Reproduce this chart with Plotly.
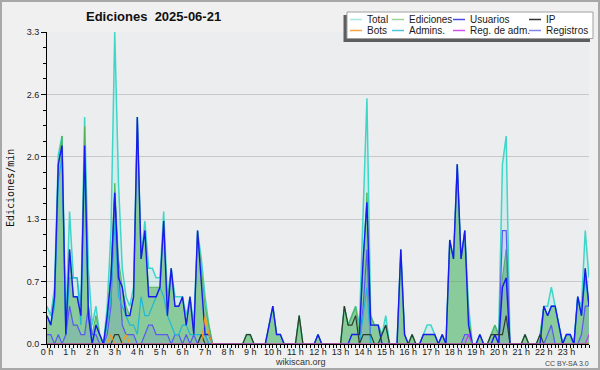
import plotly.graph_objects as go

# ---------------- data (10-minute buckets, edits per minute) ----------------
total = [0.4,0.3,0.6,2.0,2.2,0.2, 1.4,0.7,0.7,0.4,2.4,0.8, 0.2,0.4,0.1,0,0.4,1.2,
         3.3,1.7,0.8,0.5,0.4,0.6, 2.4,0.9,1.3,0.8,0.8,0.7, 0.7,1.4,0.5,0.8,0.5,0.5,
         0.5,0.3,0.5,0.2,1.2,0.9, 0.5,0.2,0,0,0,0, 0,0,0,0,0,0.1, 0.1,0,0,0,0,0.2,
         0.4,0.1,0.1,0,0,0, 0,0.3,0,0,0,0, 0.1,0,0,0,0,0, 0,0.4,0.2,0.3,0.4,0.2,
         1.3,2.6,0.3,0.2,0.2,0.1, 0.3,0,0,0,1.0,0.1, 0,0.1,0,0,0.1,0.2,
         0.2,0.1,0,0.1,0,1.1, 0.9,1.9,0.9,1.2,0.4,0, 0,0.1,0,0,0.1,0.2,
         0.1,1.9,2.2,0,0,0, 0,0.1,0,0,0,0.1, 0.4,0.4,0.6,0.4,0.2,0, 0.1,0.1,0,0.5,0.4,1.2, 0.7]
ediciones = [0.3,0.2,0.5,1.9,2.2,0.1, 1.0,0.5,0.5,0.3,2.3,0.4, 0.1,0.3,0.1,0,0.3,0.8,
             1.7,0.9,0.6,0.4,0.3,0.5, 2.4,0.9,1.2,0.6,0.6,0.6, 0.6,1.3,0.4,0.8,0.4,0.4,
             0.5,0.2,0.5,0.1,1.2,0.8, 0.4,0.2,0,0,0,0, 0,0,0,0,0,0.1, 0.1,0,0,0,0,0.2,
             0.4,0.1,0.1,0,0,0, 0,0.3,0,0,0,0, 0.1,0,0,0,0,0, 0,0.4,0.2,0.3,0.4,0.1,
             0.9,1.6,0.3,0.2,0.2,0.1, 0.2,0,0,0,1.0,0.1, 0,0.1,0,0,0.1,0.1,
             0.1,0.1,0,0.1,0,1.1, 0.9,1.9,0.9,1.2,0.3,0, 0,0.1,0,0,0.1,0.2,
             0.1,0.7,1.0,0,0,0, 0,0.1,0,0,0,0.1, 0.4,0.3,0.4,0.4,0.2,0, 0.1,0.1,0,0.5,0.3,0.8, 0.4]
usuarios = [0.3,0.2,0.5,1.9,2.1,0.1, 1.0,0.5,0.5,0.3,2.1,0.3, 0,0.2,0.1,0,0.3,0.7,
            1.6,0.7,0.6,0.3,0.3,0.5, 2.4,0.9,1.2,0.5,0.5,0.5, 0.6,1.3,0.3,0.8,0.4,0.4,
            0.5,0.2,0.5,0.1,1.2,0.6, 0.1,0.1,0,0,0,0, 0,0,0,0,0,0, 0,0,0,0,0,0.2,
            0.4,0.1,0.1,0,0,0, 0,0,0,0,0,0, 0.1,0,0,0,0,0, 0,0,0,0.1,0.1,0.1,
            0.9,1.5,0.2,0.2,0.2,0, 0,0,0,0,1.0,0.1, 0,0,0,0,0.1,0.1,
            0.1,0.1,0,0.1,0,1.1, 0.9,1.9,0.9,1.2,0.2,0, 0,0.1,0,0,0,0.1,
            0,0.6,0.7,0,0,0, 0,0,0,0,0,0, 0.4,0.3,0.4,0.4,0.2,0, 0.1,0.1,0,0.5,0.3,0.8, 0.4]
ip = [0,0,0,0,0,0, 0,0,0,0,0,0, 0,0,0,0,0,0, 0.1,0.1,0,0,0,0, 0,0,0,0,0,0, 0,0,0,0,0,0,
      0,0,0,0,0,0.1, 0,0,0,0,0,0, 0,0,0,0,0,0.1, 0.1,0,0,0,0,0, 0,0,0,0,0,0,
      0,0.3,0,0,0,0, 0,0,0,0,0,0, 0,0.4,0.2,0.2,0.3,0, 0.1,0.1,0.1,0,0,0.1,
      0.2,0,0,0,0,0, 0,0.1,0,0,0,0, 0,0,0,0,0,0, 0,0,0,0,0,0, 0,0,0,0,0.1,0.1,
      0.1,0.1,0.3,0,0,0, 0,0.1,0,0,0,0.1, 0,0,0,0,0,0, 0,0,0,0,0,0, 0]
bots = [0]*145
bots[17] = 0.1; bots[21] = 0.1; bots[42] = 0.3; bots[43] = 0.1
admins = [0.3,0.2,0.4,1.7,2.0,0.1, 0.7,0.7,0.7,0.2,1.9,0.3, 0,0.2,0.1,0,0.2,0.5,
          1.3,0.5,0.4,0.3,0.2,0.2, 0.1,0.5,0.3,0.3,0.4,0.5, 0.6,0.5,0.3,0.2,0.1,0.1,
          0.2,0.2,0.1,0.1,0.1,0.1, 0.1,0,0,0,0,0, 0,0,0,0,0,0, 0,0,0,0,0,0,
          0,0,0,0,0,0, 0,0,0,0,0,0, 0,0,0,0,0,0, 0,0,0,0,0,0,
          0.3,0.6,0,0,0,0.1, 0.2,0,0,0,0,0, 0,0,0,0,0,0, 0,0,0,0,0,0,
          0,0,0,0,0,0, 0,0,0,0,0,0, 0,0,0,0,0,0, 0,0,0,0,0,0,
          0.4,0.3,0.4,0.4,0.2,0, 0.1,0.1,0,0.5,0.3,0.7, 0.4]
reg_adm = [0]*145
reg_adm[112] = 0.1; reg_adm[144] = 0.1
registros = [0.1,0.1,0,0.1,0,0.1, 0.4,0.2,0.2,0.1,0.1,0.4, 0.1,0.1,0,0,0.1,0.4,
             1.6,0.8,0.2,0.1,0.1,0.1, 0,0,0.1,0.2,0.2,0.1, 0.1,0.1,0.1,0,0.1,0.1,
             0,0.1,0,0.1,0,0.1, 0.1,0,0,0,0,0, 0,0,0,0,0,0, 0,0,0,0,0,0,
             0,0,0,0,0,0, 0,0,0,0,0,0, 0,0,0,0,0,0, 0,0,0,0,0,0,
             0.4,1.0,0,0,0,0, 0,0,0,0,0,0, 0,0,0,0,0,0, 0,0,0,0,0,0,
             0,0,0,0.1,0.1,0, 0,0,0,0,0,0, 0,1.2,1.2,0,0,0, 0,0,0,0,0,0,
             0,0.1,0.2,0,0,0, 0,0,0,0,0.1,0.4, 0.4]

hours = [i / 6 for i in range(145)]
hour_ticks = list(range(24))
hour_labels = [f"{h} h" for h in hour_ticks]
y_ticks = [0, 0.66, 1.32, 1.98, 2.64, 3.3]
y_labels = ["0.0", "0.7", "1.3", "2.0", "2.6", "3.3"]

legend_names = ["Total", "Ediciones", "Usuarios", "IP", "Bots", "Admins.", "Reg. de adm.", "Registros"]
legend_colors = ["#a8e6e2", "#9ad69a", "#4a4ae6", "#333333", "#f6a440", "#4ec4de", "#cc55e8", "#8484f0"]

# ---------------- figure ----------------
W, H = 600, 370
L, R, T, B = 47, 11, 32, 26
PW, PH = W - L - R, H - T - B
def xp(px): return (px - L) / PW
def yp(py): return (H - B - py) / PH

fig = go.Figure()
def add(y, color, width, fill=None, fillcolor=None):
    fig.add_trace(go.Scatter(x=hours, y=y, mode="lines", line=dict(color=color, width=width),
                             fill=fill, fillcolor=fillcolor, showlegend=False, hoverinfo="skip"))

add(total, "#3fd6c8", 1.5, "tozeroy", "rgba(64,224,208,0.13)")
add(ediciones, "#55b455", 1.0, "tozeroy", "rgba(50,165,60,0.46)")
add(registros, "#5a5af0", 1.2, "tozeroy", "rgba(90,90,240,0.12)")
add(admins, "#22b6d6", 1.2)
add(usuarios, "#1a1af0", 1.4)
add(ip, "#2c3e2c", 1.2)
add(bots, "#f59a1a", 1.2)
add(reg_adm, "#c040e8", 1.2)

tick_font = dict(family="Liberation Sans, Arial, sans-serif", size=9, color="#222")
fig.update_xaxes(range=[0, 24], tickmode="array", tickvals=hour_ticks, ticktext=hour_labels,
                 showline=True, linecolor="black", linewidth=1, ticks="outside", ticklen=3,
                 tickcolor="black", showgrid=False, zeroline=False, tickfont=tick_font,
                 ticklabelstandoff=-4,
                 minor=dict(tickmode="linear", tick0=0, dtick=1/6, ticks="outside", ticklen=3,
                            tickcolor="black", showgrid=False))
fig.update_yaxes(range=[0, 3.3], tickmode="array", tickvals=y_ticks, ticktext=y_labels,
                 showline=True, linecolor="black", linewidth=1, ticks="outside", ticklen=5,
                 tickcolor="black", showgrid=True, gridcolor="#c9c9c9", gridwidth=1,
                 zeroline=False, tickfont=tick_font,
                 minor=dict(tickmode="linear", tick0=0, dtick=0.165, ticks="outside", ticklen=3,
                            tickcolor="black", showgrid=False))

shapes = [
    dict(type="rect", xref="paper", yref="paper", x0=xp(1), x1=xp(599), y0=yp(369), y1=yp(1),
         line=dict(color="#a8a8a8", width=2), layer="above"),
    dict(type="rect", xref="paper", yref="paper", x0=xp(343.5), x1=xp(590), y0=yp(42), y1=yp(15),
         fillcolor="#5e5e5e", line=dict(width=0), layer="above"),
    dict(type="rect", xref="paper", yref="paper", x0=xp(347), x1=xp(593), y0=yp(38.5), y1=yp(12),
         fillcolor="white", line=dict(color="#a0a0a0", width=1), layer="above"),
]
annotations = []
cols_line = [350, 392, 453, 529]
cols_text = [366, 407.5, 468.5, 544.5]
rows_y = [19.5, 30.5]
lab_font = dict(family="Liberation Sans, Arial, sans-serif", size=10, color="#1a1a1a")
for k, (name, col) in enumerate(zip(legend_names, legend_colors)):
    r, c = divmod(k, 4)
    shapes.append(dict(type="line", xref="paper", yref="paper", x0=xp(cols_line[c]), x1=xp(cols_line[c] + 12),
                       y0=yp(rows_y[r]), y1=yp(rows_y[r]), line=dict(color=col, width=1.5), layer="above"))
    annotations.append(dict(text=name, xref="paper", yref="paper", x=xp(cols_text[c]), y=yp(rows_y[r]),
                            xanchor="left", yanchor="middle", showarrow=False, font=lab_font, borderpad=0))

annotations += [
    dict(text="<b>Ediciones\u00a0 2025-06-21</b>", xref="paper", yref="paper", x=xp(153.5), y=yp(16.5),
         xanchor="center", yanchor="middle", showarrow=False,
         font=dict(family="Liberation Sans, Arial, sans-serif", size=13, color="#111"), borderpad=0),
    dict(text="Ediciones/min", xref="paper", yref="paper", x=xp(10), y=yp(188), textangle=-90,
         xanchor="center", yanchor="middle", showarrow=False,
         font=dict(family="DejaVu Sans Mono, monospace", size=10, color="#111")),
    dict(text="wikiscan.org", xref="paper", yref="paper", x=xp(300), y=yp(362),
         xanchor="center", yanchor="middle", showarrow=False,
         font=dict(family="Liberation Sans, Arial, sans-serif", size=9, color="#333")),
    dict(text="CC BY-SA 3.0", xref="paper", yref="paper", x=xp(591), y=yp(363),
         xanchor="right", yanchor="middle", showarrow=False,
         font=dict(family="Liberation Sans, Arial, sans-serif", size=7, color="#444")),
]

fig.update_layout(width=W, height=H, autosize=False, margin=dict(l=L, r=R, t=T, b=B, pad=0),
                  paper_bgcolor="#f0f0f0", plot_bgcolor="#ecedef", showlegend=False,
                  shapes=shapes, annotations=annotations)
fig.write_html("out.html")
